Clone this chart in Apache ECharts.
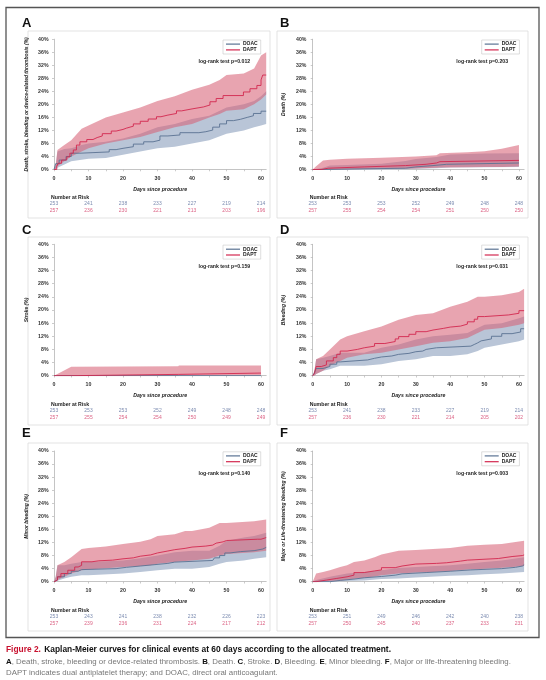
<!DOCTYPE html>
<html><head><meta charset="utf-8">
<script src="https://cdn.jsdelivr.net/npm/echarts@6/dist/echarts.min.js"></script>
<style>html,body{margin:0;padding:0;background:#fff}#c{width:546px;height:680px}</style>
</head><body><div id="c"></div>
<script>
// ---------- data ----------
const panelLetters = ['A','B','C','D','E','F'];
const yTitles = ['Death, stroke, bleeding or device-related thrombosis (%)','Death (%)','Stroke (%)','Bleeding (%)','Minor bleeding (%)','Major or Life-threatening bleeding (%)'];
const pValues = ['0.012','0.203','0.159','0.031','0.140','0.003'];
const xTickDays = [0,10,20,30,40,50,60];
const xMinorDays = [0,5,10,15,20,25,30,35,40,45,50,55,60];
const riskDays = [0,10,20,30,40,50,60];
const riskDOAC = [
  [253,241,238,233,227,219,214],
  [253,253,253,252,249,248,248],
  [253,253,253,252,249,248,248],
  [253,241,238,233,227,219,214],
  [253,243,241,238,232,226,223],
  [253,251,249,246,242,240,238]
];
const riskDAPT = [
  [257,236,230,221,213,203,196],
  [257,255,254,254,251,250,250],
  [257,255,254,254,250,249,249],
  [257,236,230,221,214,205,202],
  [257,239,236,231,224,217,212],
  [257,250,245,240,237,233,231]
];
// Kaplan-Meier step curves [day, cumulative %]
const kmDOAC_A = [[0,0],[0.5,1.8],[1.5,2.9],[3.5,4],[5,5],[7.5,5.4],[16,6.1],[18,6.5],[20,7],[23,7.8],[26,8.5],[28.7,9],[30.7,10.3],[33,10.6],[36.5,11.3],[42,11.6],[44,12.1],[46,13],[48,14],[50,15],[52,15.4],[54,16],[56,16.5],[57.8,17.2],[60,17.9],[61.5,17.9]];
const kmDAPT_A = [[0,0],[0.8,1],[1.2,1.9],[2.2,2.9],[3.7,3.9],[4.6,5],[5.6,6],[6.5,7.5],[7.5,8.5],[9.5,9.2],[11.3,9.8],[12.5,10.3],[14,11],[16.6,11.8],[18,12.3],[20,12.7],[21,13.3],[23,14],[25,14.8],[27.3,15.5],[29.7,16.2],[31,16.7],[33,17.2],[35.5,18],[37,18.6],[40,19.2],[43.3,19.8],[45.2,20.8],[47,21.8],[49,22.7],[54.9,23.8],[56.8,24.8],[58.8,25.8],[60,27.5],[60.5,29],[61.5,29]];
const kmDOAC_B = [[0,0],[3,0.4],[27,0.8],[30,1.2],[35,1.6],[39,2],[60,2]];
const kmDAPT_B = [[0,0],[2.5,0.4],[4.5,0.8],[15,1.2],[27,1.6],[33,2],[36,2.4],[37,2.8],[60,2.8]];
const kmDOAC_C = [[0,0],[60,0]];
const kmDAPT_C = [[0,0],[5,0.4],[36,0.8],[60,0.8]];
const kmDOAC_D = [[0,0],[0.5,0.8],[1,2.2],[3,2.8],[5,3.5],[7,4.2],[8,4.8],[16,5.3],[18,5.7],[20,6],[23,6.5],[25,6.8],[28,7.3],[30,7.5],[32,8],[33,8.5],[36,9],[46,9.5],[47,10],[48,10.6],[49,11.2],[52,12],[55,12.8],[58,13.3],[60.5,14.3],[61.5,14.3]];
const kmDAPT_D = [[0,0],[0.5,0.7],[1,2.8],[2.5,3.3],[4,4.5],[6,5.5],[7,6.5],[8,7.5],[10,8],[13,8.5],[15,9],[18,9.8],[21,10.4],[24,11.2],[25,11.9],[28,12.6],[30,13.4],[33,13.9],[35,14.4],[38,14.8],[40,15.1],[43,15.7],[45,16.4],[47,17.2],[48,18],[50,18.5],[57,19],[60,19.8],[61.5,20]];
const kmDOAC_E = [[0,0],[0.5,0.5],[1,1.5],[3,2.5],[5,3.2],[7,3.7],[8,4],[18,4.4],[21,4.8],[25,5.2],[29,5.6],[33,6],[35,6.5],[46,6.5],[46.5,7.3],[48,8],[49.5,8.8],[51,9.2],[54,9.5],[58,10],[60.5,10.5],[61.5,10.5]];
const kmDAPT_E = [[0,0],[0.5,0.5],[1,1.5],[2,2.5],[4,3.5],[6,4.5],[7,5],[8,6.1],[11,6.4],[13,6.6],[17,7],[20,7.3],[23,7.8],[25,8.2],[28,8.8],[30,9.4],[33,9.8],[35,10.2],[38,10.6],[40,10.9],[44,11.2],[46,11.8],[47,12.2],[49,12.6],[50,13],[59,13],[60,13.5],[61.5,13.5]];
const kmDOAC_F = [[0,0],[5,0.4],[8,0.8],[12,1.2],[15,1.6],[20,2],[24,2.4],[26,2.8],[33,3.2],[40,3.6],[46,4],[55,4.4],[59,4.8],[61,5.2],[61.5,5.2]];
const kmDAPT_F = [[0,0],[1,0.5],[4,1],[7,1.5],[10,2],[12,2.8],[15,3.3],[18,3.6],[20,4.3],[24,4.8],[26,5.4],[30,5.6],[36,5.8],[39,6.3],[43,6.6],[45,7.1],[54,7.7],[58,8],[61,8.2],[61.5,8.2]];
// confidence bands [day, lower %, upper %]
const bandDOAC_A = [[0,0,0],[0.5,0,1],[1,0.5,5.5],[3,1.5,6.3],[5,2.5,6.5],[8,3,7.5],[10,3.3,8],[15,3.5,8.5],[20,4.5,9.5],[25,5.5,11],[30,6.5,13],[35,7,14],[40,8,15.5],[45,9,16.5],[50,11,19],[55,12,20],[58,13,21],[60,13.5,22.5],[61.5,14,24]];
const bandDAPT_A = [[0,0,0],[0.5,0,1.5],[1,1,6],[3,2.5,7.5],[5,4,9],[8,5.5,12.5],[10,6.5,13.5],[15,8,16],[20,9,17.5],[25,10,19],[30,11.5,21],[35,13,22.5],[40,14,24.5],[45,16,26],[48,17,27.5],[50,18,29],[55,18.5,29.5],[58,20,31],[60,21.5,35],[61.5,23,36]];
const bandDOAC_B = [[0,0,0],[3,0,0.5],[5,0,1.2],[10,0,1.4],[20,0,1.8],[27,0.1,2.6],[30,0.2,3.2],[36,0.4,3.8],[40,0.6,4.6],[50,0.7,4.9],[60,0.8,5]];
const bandDAPT_B = [[0,0,0],[1,0,1],[3,0,2.8],[5,0,3],[10,0.1,3.3],[20,0.2,3.6],[30,0.3,4],[36,0.5,4.4],[37,0.6,5],[45,0.7,5.3],[50,0.8,5.6],[55,0.8,6.4],[60,0.9,7.5]];
const bandDOAC_C = [[0,0,0],[60,0,0]];
const bandDAPT_C = [[0,0,0],[5,0,2.7],[20,0,2.8],[36,0,2.9],[36.2,0.1,3.1],[60,0.1,3.1]];
const bandDOAC_D = [[0,0,0],[0.5,0,1.5],[1,0.5,5],[3,1.5,5.5],[5,2,6],[8,3,7],[10,3,7],[15,3,7],[20,3.5,8.5],[25,4.5,9.5],[30,5,11],[35,6,12],[40,6,12.5],[45,6.5,13],[48,7.5,14.5],[50,8.5,15.5],[55,9.5,16],[60,10.5,17.5],[61.5,11,18]];
const bandDAPT_D = [[0,0,0],[0.5,0,1.5],[1,0.5,5],[3,1.5,6],[5,3,8],[8,4.5,11],[10,5.5,12],[15,6.5,13.5],[20,7,15],[25,8,17],[30,9,18.5],[35,10,19],[40,10.5,21],[45,11.5,22.5],[48,13,24],[50,14,24],[55,14.5,24.5],[60,15.5,25.5],[61.5,16,26.5]];
const bandDOAC_E = [[0,0,0],[0.5,0,1.5],[1,0.3,5],[3,1,5],[5,1.5,5.5],[8,2,6],[10,2,6],[20,2.5,6.5],[25,3,7.2],[30,3.5,8],[35,4,9],[40,4,9.5],[45,4.5,9.5],[48,5.5,11],[50,6,12.5],[55,6.5,13.5],[58,7,14],[61.5,7.5,15]];
const bandDAPT_E = [[0,0,0],[0.5,0,1.5],[1,0.5,5],[3,1.5,6],[5,2.5,7.5],[8,3.5,10],[10,3.7,10.3],[15,4.1,10.8],[20,4.5,11.5],[25,4.8,12.2],[28,5,13],[30,5.5,14],[35,6,14.5],[38,6.3,15.5],[40,6.5,15.5],[45,7,16.5],[48,8,18],[50,8.5,18],[58,9,18.5],[61.5,9.5,19]];
const bandDOAC_F = [[0,0,0],[1,0,0.5],[5,0,1.5],[10,0.2,2.5],[15,0.4,3],[20,0.8,3.5],[25,1,4.2],[30,1.3,4.5],[40,1.8,5],[45,2,5.5],[50,2.3,6],[55,2.5,6.5],[61.5,3,7.5]];
const bandDAPT_F = [[0,0,0],[1,0,2.5],[3,0.1,3],[5,0.2,3.5],[8,0.4,4.5],[10,0.6,5],[12,0.9,6],[15,1.2,6.5],[18,1.6,7.5],[20,2,8.3],[25,2.5,9.5],[30,2.8,9.7],[35,3,10],[40,3.3,10.3],[45,3.7,11],[50,4,11.3],[55,4.3,11.5],[58,4.5,12],[61.5,4.8,12.5]];

const kmDOAC = [kmDOAC_A,kmDOAC_B,kmDOAC_C,kmDOAC_D,kmDOAC_E,kmDOAC_F];
const kmDAPT = [kmDAPT_A,kmDAPT_B,kmDAPT_C,kmDAPT_D,kmDAPT_E,kmDAPT_F];
const bandDOAC = [bandDOAC_A,bandDOAC_B,bandDOAC_C,bandDOAC_D,bandDOAC_E,bandDOAC_F];
const bandDAPT = [bandDAPT_A,bandDAPT_B,bandDAPT_C,bandDAPT_D,bandDAPT_E,bandDAPT_F];

// ---------- layout & style ----------
const FF = '"Liberation Sans", Arial, sans-serif';
const C_DOAC = '#5a7292', C_DAPT = '#d3284f';
const F_DOAC = '#b9c5d7', F_DAPT = 'rgba(215,95,116,0.57)';
const R_DOAC = '#5a6e9c', R_DAPT = '#d23a64';
const colLeft = [54, 312.7], colWidth = [212.2, 211.4], yOffset = [2.5, 3.3], colNameGap = [22.5, 23.5];
const rowTop = [39.2, 244.3, 451], rowHeight = [130.3, 131.4, 130.7];
const riskTop = [200.5, 407.4, 613.4], riskHeight = [14, 13.2, 13.2];
const boxX = [28, 277], boxW = [242, 251];
const boxY = [31, 237, 443], boxH = [187, 188, 188];
const letterX = [22, 280], letterY = [23.5, 230, 433];

const grid = [], xAxis = [], yAxis = [], series = [], legend = [], graphic = [];
graphic.push({type:'rect', shape:{x:6, y:7.5, width:533, height:630}, style:{fill:'none', stroke:'#555', lineWidth:1.3}, z:0});

for (let i = 0; i < 6; i++) {
  const col = i % 2, row = Math.floor(i / 2);
  const L = colLeft[col], W = colWidth[col], T = rowTop[row], H = rowHeight[row];
  const gMain = grid.length;
  grid.push({left:L, top:T, width:W, height:H, outerBoundsMode:'none', containLabel:false});
  xAxis.push({gridIndex:gMain, type:'value', min:0, max:61.5, offset:2.3,
    axisLine:{lineStyle:{color:'#b5b5b5', width:0.8}},
    axisTick:{show:true, customValues:xMinorDays, length:1.8, lineStyle:{color:'#b5b5b5', width:0.7}},
    axisLabel:{customValues:xTickDays, fontSize:5.3, fontWeight:'bold', color:'#333', margin:4, fontFamily:FF},
    splitLine:{show:false},
    name:'Days since procedure', nameLocation:'middle', nameGap:15,
    nameTextStyle:{fontSize:5.2, fontStyle:'italic', fontWeight:'bold', color:'#222', fontFamily:FF}});
  yAxis.push({gridIndex:gMain, type:'value', min:0, max:40, interval:4, offset:yOffset[col],
    axisLine:{show:true, lineStyle:{color:'#b5b5b5', width:0.8}},
    axisTick:{show:true, length:2, lineStyle:{color:'#b5b5b5', width:0.7}},
    axisLabel:{formatter:'{value}%', fontSize:5.2, fontWeight:'bold', color:'#333', margin:3, fontFamily:FF},
    splitLine:{show:false},
    name:yTitles[i], nameLocation:'middle', nameGap:colNameGap[col],
    nameTextStyle:{fontSize:5, fontStyle:'italic', fontWeight:'bold', color:'#222', fontFamily:FF}});

  const bandSeries = (data, fill, nm) => ({
    type:'custom', name:nm, xAxisIndex:gMain, yAxisIndex:gMain, data:data, silent:true, z:1,
    encode:{x:0, y:[1,2]},
    renderItem:(params, api) => {
      if (params.dataIndex !== 0) return null;
      const pts = [];
      for (let k = 0; k < data.length; k++) pts.push(api.coord([data[k][0], data[k][2]]));
      for (let k = data.length - 1; k >= 0; k--) pts.push(api.coord([data[k][0], data[k][1]]));
      return {type:'polygon', shape:{points:pts}, style:{fill:fill}};
    }
  });
  series.push(bandSeries(bandDOAC[i], F_DOAC, 'DOAC CI ' + i));
  series.push(bandSeries(bandDAPT[i], F_DAPT, 'DAPT CI ' + i));
  series.push({type:'line', name:'DOAC', xAxisIndex:gMain, yAxisIndex:gMain, data:kmDOAC[i], step:'end',
    symbol:'none', showSymbol:false, silent:true, z:3, lineStyle:{color:C_DOAC, width:0.9}, itemStyle:{color:C_DOAC}});
  series.push({type:'line', name:'DAPT', xAxisIndex:gMain, yAxisIndex:gMain, data:kmDAPT[i], step:'end',
    symbol:'none', showSymbol:false, silent:true, z:3, lineStyle:{color:C_DAPT, width:0.9}, itemStyle:{color:C_DAPT}});

  legend.push({orient:'vertical', left:L + 169, top:T + 0.8, selectedMode:false,
    data:[{name:'DOAC', icon:'rect'}, {name:'DAPT', icon:'rect'}],
    itemWidth:14, itemHeight:1.2, itemGap:0.8, padding:[1.6,3,1.6,3],
    borderColor:'#c8c8c8', borderWidth:0.6,
    textStyle:{fontSize:5, fontWeight:'bold', color:'#222', fontFamily:FF, padding:[0,0,0,-2]}});

  // risk table grid (same x scale)
  const gRisk = grid.length;
  grid.push({left:L, top:riskTop[row], width:W, height:riskHeight[row], outerBoundsMode:'none', containLabel:false});
  xAxis.push({gridIndex:gRisk, type:'value', min:0, max:61.5, show:false});
  yAxis.push({gridIndex:gRisk, type:'value', min:-0.5, max:1.5, inverse:true, show:false});
  series.push({type:'scatter', name:'risk DOAC ' + i, xAxisIndex:gRisk, yAxisIndex:gRisk, silent:true,
    symbolSize:0.1, itemStyle:{color:'rgba(0,0,0,0)'},
    data:riskDays.map((d, k) => [d, 0, riskDOAC[i][k]]),
    label:{show:true, position:'inside', formatter:p => String(p.value[2]), fontSize:5, color:R_DOAC, fontFamily:FF}});
  series.push({type:'scatter', name:'risk DAPT ' + i, xAxisIndex:gRisk, yAxisIndex:gRisk, silent:true,
    symbolSize:0.1, itemStyle:{color:'rgba(0,0,0,0)'},
    data:riskDays.map((d, k) => [d, 1, riskDAPT[i][k]]),
    label:{show:true, position:'inside', formatter:p => String(p.value[2]), fontSize:5, color:R_DAPT, fontFamily:FF}});

  // panel decorations
  graphic.push({type:'rect', shape:{x:boxX[col], y:boxY[row], width:boxW[col], height:boxH[row]},
    style:{fill:'none', stroke:'#dcdcdc', lineWidth:0.8}, z:0});
  graphic.push({type:'text', x:letterX[col], y:letterY[row],
    style:{text:panelLetters[i], font:'bold 13px ' + FF, fill:'#111', verticalAlign:'middle'}});
  graphic.push({type:'text', x:L + W - 16, y:T + 22.5,
    style:{text:'log-rank test p=' + pValues[i], font:'bold 5.2px ' + FF, fill:'#222', align:'right', verticalAlign:'middle'}});
  graphic.push({type:'text', x:L - 3, y:riskTop[row] - 3.2,
    style:{text:'Number at Risk', font:'bold 5.2px ' + FF, fill:'#222', verticalAlign:'middle'}});
}

// caption
graphic.push({type:'text', x:6, y:650, style:{
  text:'{r|Figure 2.} {b|Kaplan-Meier curves for clinical events at 60 days according to the allocated treatment.}',
  verticalAlign:'middle',
  rich:{r:{font:'bold 8.4px ' + FF, fill:'#c8102e'}, b:{font:'bold 8.4px ' + FF, fill:'#111'}}}});
graphic.push({type:'text', x:6, y:661.5, style:{
  text:'{b|A}{g|, Death, stroke, bleeding or device-related thrombosis. }{b|B}{g|, Death. }{b|C}{g|, Stroke. }{b|D}{g|, Bleeding. }{b|E}{g|, Minor bleeding. }{b|F}{g|, Major or life-threatening bleeding.}',
  verticalAlign:'middle',
  rich:{b:{font:'bold 7.85px ' + FF, fill:'#111'}, g:{font:'7.85px ' + FF, fill:'#777'}}}});
graphic.push({type:'text', x:6, y:672.5, style:{
  text:'DAPT indicates dual antiplatelet therapy; and DOAC, direct oral anticoagulant.',
  verticalAlign:'middle', font:'7.85px ' + FF, fill:'#777'}});

const chart = echarts.init(document.getElementById('c'), null, {renderer:'canvas'});
chart.setOption({animation:false, backgroundColor:'#fff', grid, xAxis, yAxis, series, legend, graphic,
  textStyle:{fontFamily:FF}});
</script></body></html>
